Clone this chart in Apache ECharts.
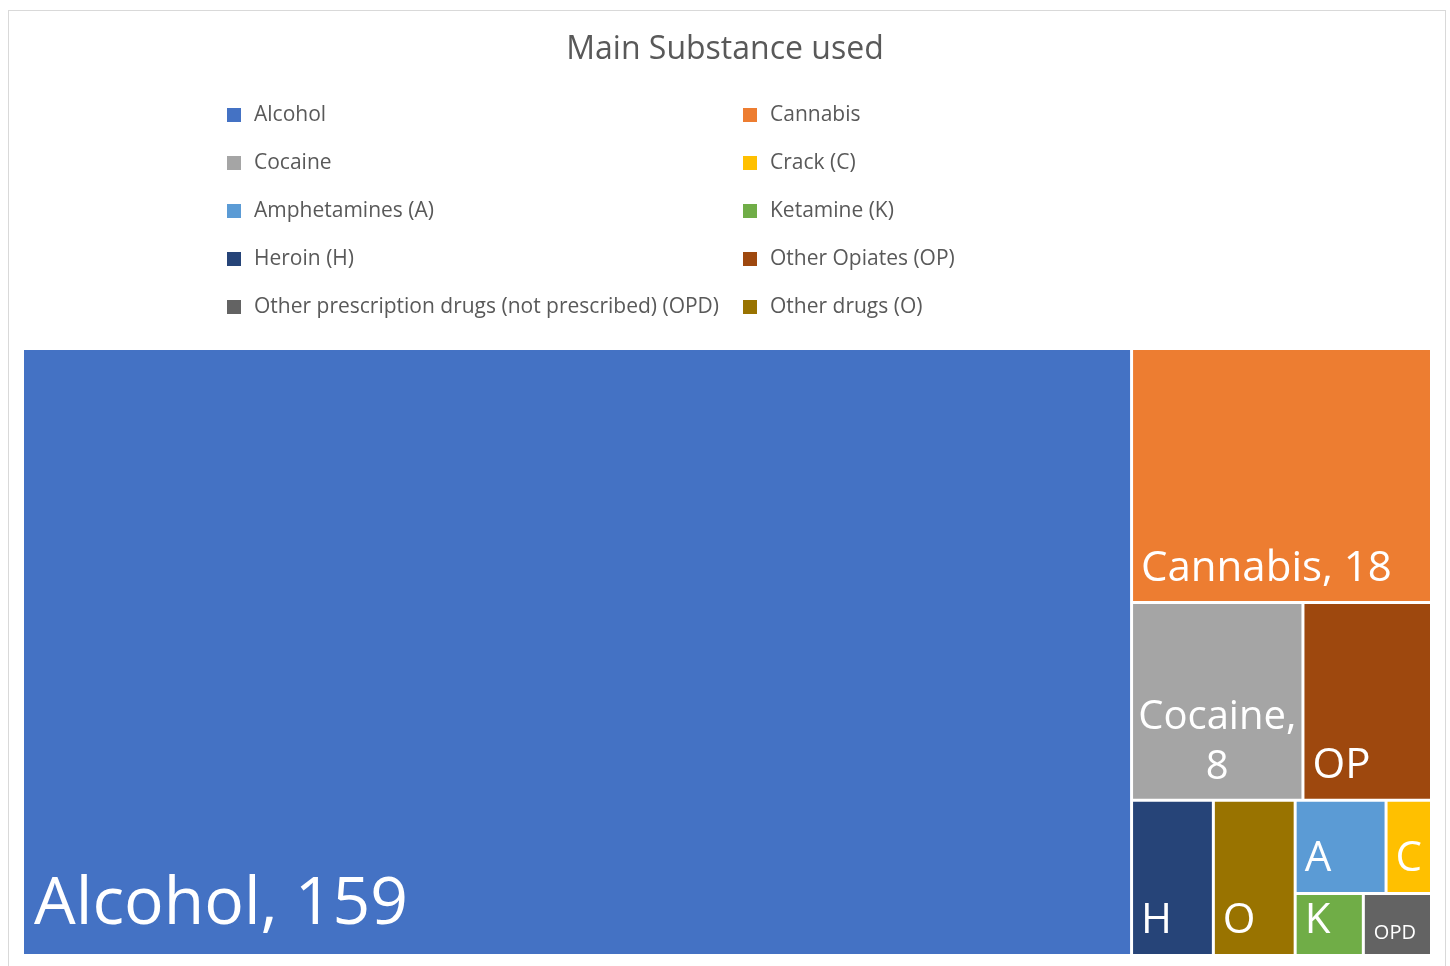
<!DOCTYPE html>
<html>
<head>
<meta charset="utf-8">
<script src="https://cdn.jsdelivr.net/npm/echarts@6/dist/echarts.min.js"></script>
<style>
html, body { margin: 0; padding: 0; background: #ffffff; }
#frame { position: absolute; left: 8px; top: 10px; width: 1438px; height: 990px; border: 1px solid #d9d9d9; box-sizing: border-box; }
#chart { position: absolute; left: 0; top: 0; width: 1450px; height: 966px; }
</style>
</head>
<body>
<div id="frame"></div>
<div id="chart"></div>
<script>
// ---- data ----
const categories = ['Alcohol', 'Cannabis', 'Cocaine', 'Other Opiates (OP)', 'Heroin (H)', 'Other drugs (O)', 'Amphetamines (A)', 'Crack (C)', 'Ketamine (K)', 'Other prescription drugs (not prescribed) (OPD)'];
const values = [159, 18, 8, 6, 3, 3, 2, 1, 1, 1];
const shortLabels = ['Alcohol', 'Cannabis', 'Cocaine', 'OP', 'H', 'O', 'A', 'C', 'K', 'OPD'];
const showValue = [true, true, true, false, false, false, false, false, false, false];
const legendLeftNames = ['Alcohol', 'Cocaine', 'Amphetamines (A)', 'Heroin (H)', 'Other prescription drugs (not prescribed) (OPD)'];
const legendRightNames = ['Cannabis', 'Crack (C)', 'Ketamine (K)', 'Other Opiates (OP)', 'Other drugs (O)'];
const titleText = 'Main Substance used';

// ---- styles ----
const colorMap = {
  'Alcohol': '#4472C4',
  'Cannabis': '#ED7D31',
  'Cocaine': '#A5A5A5',
  'Crack (C)': '#FFC000',
  'Amphetamines (A)': '#5B9BD5',
  'Ketamine (K)': '#70AD47',
  'Heroin (H)': '#264478',
  'Other Opiates (OP)': '#9E480E',
  'Other prescription drugs (not prescribed) (OPD)': '#636363',
  'Other drugs (O)': '#997300'
};
const FONT = '"Open Sans", "Noto Sans", sans-serif';
function labelSize(i) {
  if (i === 0) return 66;
  if (shortLabels[i] === 'Cocaine') return 40;
  if (shortLabels[i].length >= 3 && !showValue[i]) return 20;
  return 42;
}

const treeData = categories.map((name, i) => {
  const fs = labelSize(i);
  const wrap = name === 'Cocaine';
  const lbl = {
    fontSize: fs,
    lineHeight: Math.round(fs * 1.25),
    formatter: wrap
      ? shortLabels[i] + ',\n' + values[i]
      : (showValue[i] ? shortLabels[i] + ', ' + values[i] : shortLabels[i])
  };
  if (wrap) {
    lbl.position = 'insideBottom';
    lbl.align = 'center';
    lbl.padding = [0, 0, 6, 0];
  }
  if (i === 0) {
    lbl.padding = [0, 0, 7, 10];
  }
  if (fs === 20) {
    lbl.padding = [0, 0, 8, 9];
  }
  return {
    name: name,
    value: values[i],
    itemStyle: { color: colorMap[name] },
    label: lbl
  };
});

const legendSeries = categories.map(name => ({
  type: 'custom',
  name: name,
  coordinateSystem: 'none',
  data: [],
  renderItem: function () { return null; },
  itemStyle: { color: colorMap[name] }
}));

const legendCommon = {
  orient: 'vertical',
  icon: 'rect',
  itemWidth: 14,
  itemHeight: 14,
  itemGap: 24,
  padding: 0,
  selectedMode: false,
  textStyle: { fontFamily: FONT, fontSize: 21, color: '#595959', lineHeight: 24, padding: [0, 0, 0, 8] }
};

const chart = echarts.init(document.getElementById('chart'), null, { renderer: 'canvas' });
chart.setOption({
  animation: false,
  textStyle: { fontFamily: FONT },
  title: {
    text: titleText,
    left: 'center',
    top: 29,
    textStyle: { fontFamily: FONT, fontSize: 32, fontWeight: 'normal', color: '#595959' }
  },
  legend: [
    Object.assign({}, legendCommon, { left: 227, top: 103, data: legendLeftNames }),
    Object.assign({}, legendCommon, { left: 743, top: 103, data: legendRightNames })
  ],
  series: [{
    type: 'treemap',
    left: 24,
    top: 350,
    width: 1406,
    height: 604,
    squareRatio: 1,
    sort: false,
    roam: false,
    nodeClick: false,
    breadcrumb: { show: false },
    itemStyle: { gapWidth: 3, borderWidth: 0, borderColor: '#fff' },
    label: {
      show: true,
      position: 'insideBottomLeft',
      distance: 0,
      padding: [0, 0, 6, 8],
      color: '#ffffff',
      fontFamily: FONT,
      overflow: 'none'
    },
    upperLabel: { show: false },
    data: treeData
  }].concat(legendSeries)
});
</script>
</body>
</html>
